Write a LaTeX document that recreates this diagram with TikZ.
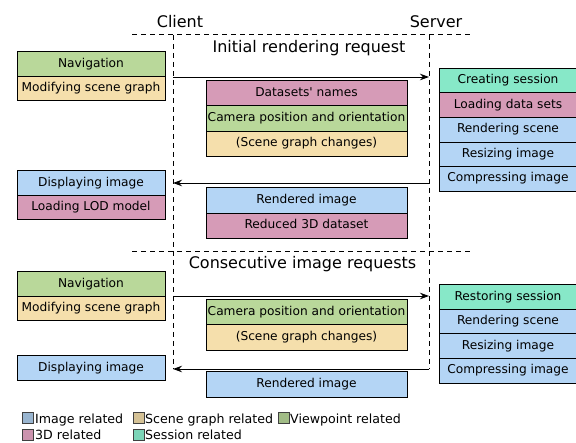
\documentclass[tikz,border=0pt]{standalone}
\usepackage{fontspec}
\setmainfont{DejaVu Sans}
\usepackage{tikz}
\usepackage{xcolor}
\usetikzlibrary{positioning,arrows.meta}
\definecolor{viewgreen}{RGB}{185,216,154}
\definecolor{scenebeige}{RGB}{245,223,172}
\definecolor{dpink}{RGB}{214,155,183}
\definecolor{imgblue}{RGB}{180,213,245}
\definecolor{sessteal}{RGB}{135,232,200}
\newcommand{\boxfont}{\fontsize{12.2}{14.6}\selectfont}
\newcommand{\titlefont}{\fontsize{16}{19}\selectfont}
\newcommand{\legendfont}{\fontsize{12.6}{15}\selectfont}
\tikzstyle{clientbox}=[rectangle, draw=black, line width=0.8pt, text centered, text=black, font=\boxfont, text height=9pt, text depth=2.9pt, inner xsep=1pt, outer sep=0pt, minimum width=148pt, minimum height=24.6pt]
\tikzstyle{msgbox}=[rectangle, draw=black, line width=0.8pt, text centered, text=black, font=\boxfont, text height=9pt, text depth=2.9pt, inner xsep=1pt, outer sep=0pt, minimum width=201pt, minimum height=25.4pt]
\tikzstyle{serverbox}=[rectangle, draw=black, line width=0.8pt, text centered, text=black, font=\boxfont, text height=9pt, text depth=2.9pt, inner xsep=1pt, outer sep=0pt, minimum width=138pt, minimum height=24.6pt]
\tikzstyle{border}=[dash pattern=on 5pt off 4pt, line width=1pt]
\tikzstyle{req}=[line width=0.9pt, -{Stealth[length=9pt, width=6.5pt]}]
\tikzstyle{title}=[font=\titlefont, anchor=base, inner sep=0pt]
\tikzstyle{legendbox}=[rectangle, draw=black!75, line width=0.7pt, minimum size=11pt, inner sep=0pt]
\tikzstyle{legendtext}=[font=\legendfont, anchor=base west, inner sep=0pt]

\begin{document}
\begin{tikzpicture}[x=1pt, y=-1pt]
        \useasboundingbox (0,0) rectangle (576,443);
        \node(clientlabel)[title] at (180,28){Client};
        \node(serverlabel)[title] at (436,28){Server};
        % dashed frame
        \coordinate(topl) at (132,35);
        \coordinate(topr) at (473,35);
        \coordinate(midl) at (132,252);
        \coordinate(midr) at (473,252);
        \coordinate(cltop) at (173,35);
        \coordinate(clbot) at (173,369);
        \coordinate(svtop) at (429,35);
        \coordinate(svbot) at (429,369);
        \draw[border] (topl) -- (topr);
        \draw[border] (midl) -- (midr);
        \draw[border] (cltop) -- (clbot);
        \draw[border] (svtop) -- (svbot);
        % initial rendering request
        \node(initial)[title] at (309,53){Initial rendering request};
        \node(nav1)[clientbox, fill=viewgreen] at (91,64){
            Navigation
        };
        \node(modify1)[clientbox, fill=scenebeige, below=0pt of nav1]{
            Modifying scene graph
        };
        \node(display1)[clientbox, fill=imgblue] at (91,183){
            Displaying image
        };
        \node(lod1)[clientbox, fill=dpink, below=0pt of display1]{
            Loading LOD model
        };
        \node(names)[msgbox, fill=dpink] at (306.5,93){
            Datasets\textquotesingle{} names
        };
        \node(camera1)[msgbox, fill=viewgreen, below=0pt of names]{
            Camera position and orientation
        };
        \node(changes1)[msgbox, fill=scenebeige, below=0pt of camera1]{
            (Scene graph changes)
        };
        \node(rendered1)[msgbox, fill=imgblue] at (306.5,200.5){
            Rendered image
        };
        \node(reduced)[msgbox, fill=dpink, below=0pt of rendered1]{
            Reduced 3D dataset
        };
        \node(create)[serverbox, fill=sessteal] at (508,80.5){
            Creating session
        };
        \node(loading)[serverbox, fill=dpink, below=0pt of create]{
            Loading data sets
        };
        \node(render1)[serverbox, fill=imgblue, below=0pt of loading]{
            Rendering scene
        };
        \node(resize1)[serverbox, fill=imgblue, below=0pt of render1]{
            Resizing image
        };
        \node(compress1)[serverbox, fill=imgblue, below=0pt of resize1]{
            Compressing image
        };
        \coordinate(send1) at (173,77);
        \coordinate(recv1) at (429,77);
        \coordinate(reply1) at (429,183);
        \coordinate(got1) at (173,183);
        \draw[req] (send1) -- (recv1);
        \draw[req] (reply1) -- (got1);
        % consecutive image requests
        \node(consecutive)[title] at (302.5,269){Consecutive image requests};
        \node(nav2)[clientbox, fill=viewgreen] at (91,284){
            Navigation
        };
        \node(modify2)[clientbox, fill=scenebeige, below=0pt of nav2]{
            Modifying scene graph
        };
        \node(display2)[clientbox, fill=imgblue] at (91,368){
            Displaying image
        };
        \node(camera2)[msgbox, fill=viewgreen] at (306.5,312){
            Camera position and orientation
        };
        \node(changes2)[msgbox, fill=scenebeige, below=0pt of camera2]{
            (Scene graph changes)
        };
        \node(rendered2)[msgbox, fill=imgblue] at (306.5,384.5){
            Rendered image
        };
        \node(restore)[serverbox, fill=sessteal] at (508,297){
            Restoring session
        };
        \node(render2)[serverbox, fill=imgblue, below=0pt of restore]{
            Rendering scene
        };
        \node(resize2)[serverbox, fill=imgblue, below=0pt of render2]{
            Resizing image
        };
        \node(compress2)[serverbox, fill=imgblue, below=0pt of resize2]{
            Compressing image
        };
        \coordinate(send2) at (173,296);
        \coordinate(recv2) at (429,296);
        \coordinate(reply2) at (429,369);
        \coordinate(got2) at (173,369);
        \draw[req] (send2) -- (recv2);
        \draw[req] (reply2) -- (got2);
        % legend
        \node(keyimage)[legendbox, fill=imgblue!85!black] at (27.5,418){};
        \node(keyimagetext)[legendtext] at (35,423.5){Image related};
        \node(keyscene)[legendbox, fill=scenebeige!87!black] at (138.5,418){};
        \node(keyscenetext)[legendtext] at (145,423.5){Scene graph related};
        \node(keyview)[legendbox, fill=viewgreen!87!black] at (283.5,418){};
        \node(keyviewtext)[legendtext] at (290,423.5){Viewpoint related};
        \node(key3d)[legendbox, fill=dpink!95!black] at (27.5,434.5){};
        \node(key3dtext)[legendtext] at (35,440){3D related};
        \node(keysession)[legendbox, fill=sessteal!92!black] at (138.5,434.5){};
        \node(keysessiontext)[legendtext] at (145,440){Session related};
    \end{tikzpicture}
\end{document}
